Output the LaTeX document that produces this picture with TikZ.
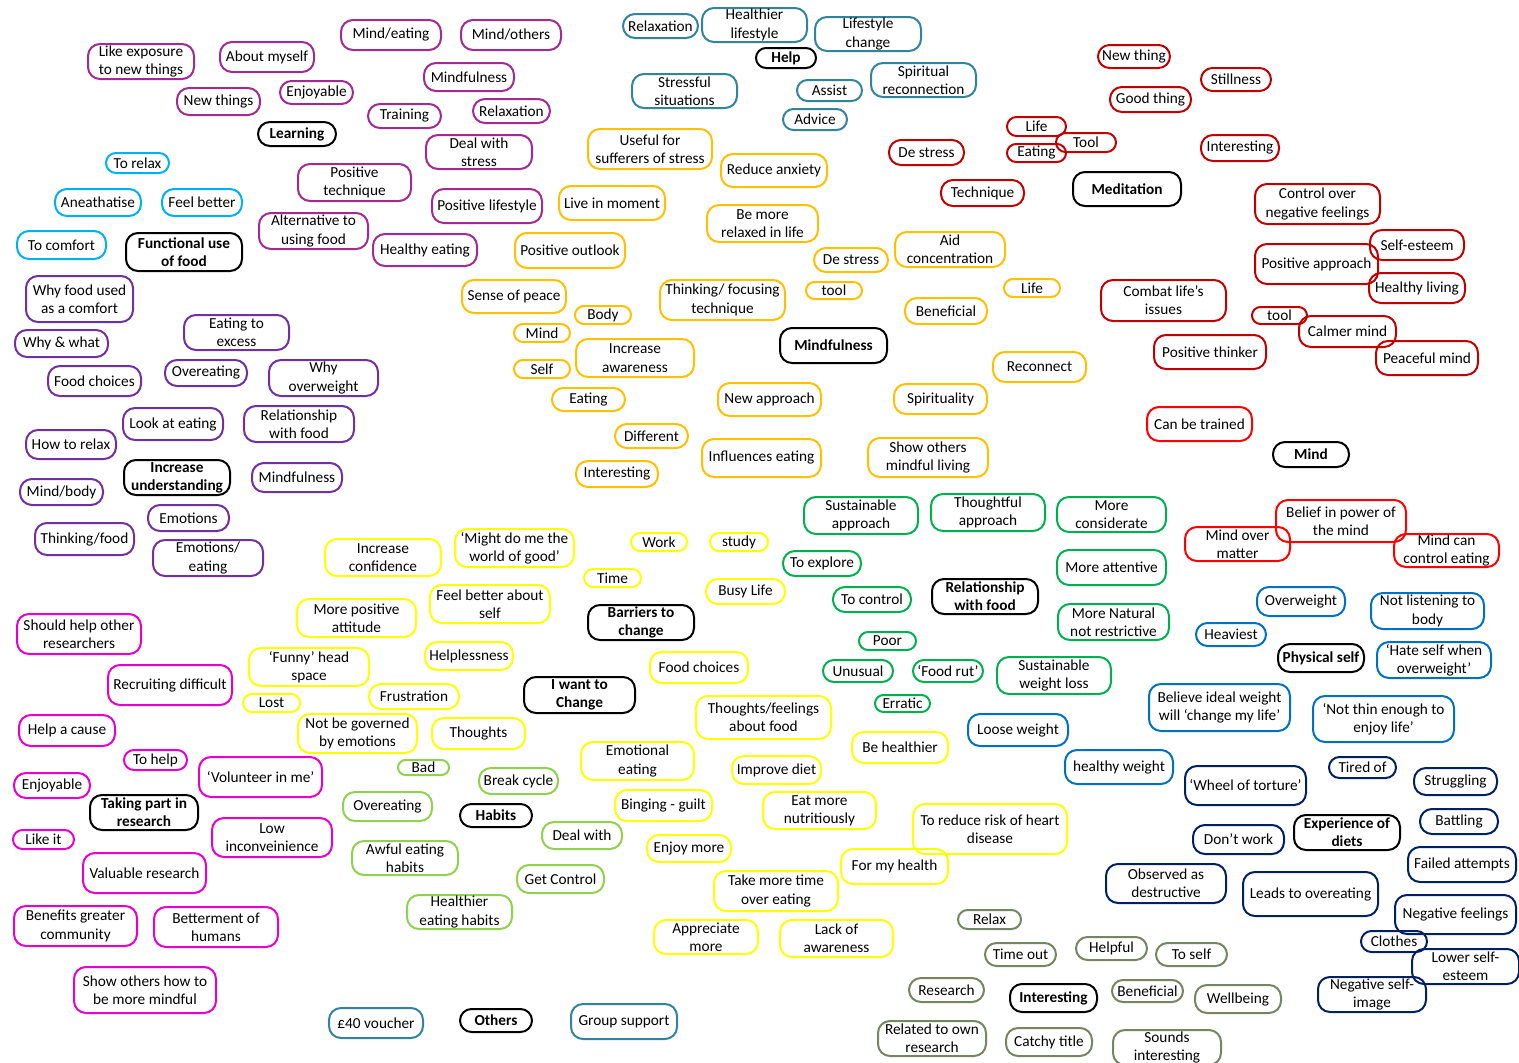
\documentclass[tikz,border=0pt]{standalone}
\usepackage{fontspec}
\setmainfont{Carlito}

\begin{document}
\begin{tikzpicture}[
    x=1pt, y=-1pt,
    font=\fontsize{15.3}{18.3}\selectfont,
    line join=round,
    line cap=round,
    bubble/.style={draw, line width=2pt, align=center, inner sep=0pt, outer sep=0pt},
    hub/.style={draw=black, font=\fontsize{15.3}{18.3}\selectfont\bfseries},
    learn/.style={draw=learncol},
    func/.style={draw=funccol},
    under/.style={draw=undercol},
    helpc/.style={draw=helpcol},
    mindf/.style={draw=mindfcol},
    medit/.style={draw=meditcol},
    mindc/.style={draw=mindcol},
    relat/.style={draw=relatcol},
    want/.style={draw=wantcol},
    habit/.style={draw=habitcol},
    resrch/.style={draw=resrchcol},
    other/.style={draw=helpcol},
    intr/.style={draw=intrcol},
    phys/.style={draw=physcol},
    diet/.style={draw=dietcol}
]

% ========= Colors =========
\definecolor{learncol}{RGB}{160,43,147}
\definecolor{undercol}{RGB}{112,48,160}
\definecolor{funccol}{RGB}{0,176,240}
\definecolor{helpcol}{RGB}{49,132,155}
\definecolor{mindfcol}{RGB}{255,192,0}
\definecolor{meditcol}{RGB}{192,0,0}
\definecolor{mindcol}{RGB}{255,0,0}
\definecolor{relatcol}{RGB}{0,176,80}
\definecolor{wantcol}{RGB}{255,255,0}
\definecolor{habitcol}{RGB}{146,208,80}
\definecolor{resrchcol}{RGB}{230,0,205}
\definecolor{intrcol}{RGB}{118,133,98}
\definecolor{physcol}{RGB}{0,112,192}
\definecolor{dietcol}{RGB}{0,32,96}

% ========= Helper: rounded bubble =========
% args: name, style, left, top, right, bottom, label
\newcommand{\bubble}[7]{
    \node[bubble, #2, minimum width={#5-#3-2}, minimum height={#6-#4-2},
          rounded corners={min(12,(#6-#4-2)/2)}]
          (#1) at ({(#3+#5)/2},{(#4+#6)/2}) {#7};
}

\fill[white] (0,0) rectangle (1519,1063);
\useasboundingbox (0,0) rectangle (1519,1063);

% ========= Learning =========
\bubble{learning}{hub}{257}{121}{337}{147}{Learning}
\bubble{likeexp}{learn}{87}{43}{195}{80}{Like exposure\\to new things}
\bubble{aboutme}{learn}{219}{41}{315}{73}{About myself}
\bubble{mindeat}{learn}{340}{19}{442}{51}{Mind/eating}
\bubble{mindoth}{learn}{460}{19}{562}{51}{Mind/others}
\bubble{newthgs}{learn}{176}{87}{261}{116}{New things}
\bubble{enjoyl}{learn}{279}{80}{354}{105}{Enjoyable}
\bubble{mindfl}{learn}{423}{62}{515}{92}{Mindfulness}
\bubble{trainl}{learn}{367}{103}{442}{129}{Training}
\bubble{relaxl}{learn}{472}{98}{551}{124}{Relaxation}
\bubble{dealstr}{learn}{425}{134}{533}{170}{Deal with\\stress}
\bubble{postech}{learn}{297}{163}{412}{202}{Positive\\technique}
\bubble{altfood}{learn}{258}{212}{369}{250}{Alternative to\\using food}
\bubble{poslife}{learn}{431}{188}{543}{224}{Positive lifestyle}
\bubble{hlthyeat}{learn}{372}{233}{478}{267}{Healthy eating}

% ========= Functional use of food =========
\bubble{funcuse}{hub}{125}{232}{243}{272}{Functional use\\of food}
\bubble{torelax}{func}{105}{152}{170}{174}{To relax}
\bubble{anaes}{func}{54}{188}{142}{217}{Aneathatise}
\bubble{feelbet}{func}{161}{188}{243}{217}{Feel better}
\bubble{tocomf}{func}{16}{230}{107}{260}{To comfort}

% ========= Increase understanding =========
\bubble{incund}{hub}{123}{459}{231}{496}{Increase\\understanding}
\bubble{whyfood}{under}{25}{275}{134}{323}{Why food used\\as a comfort}
\bubble{whywhat}{under}{14}{329}{109}{358}{Why \& what}
\bubble{eatexc}{under}{183}{314}{290}{351}{Eating to\\excess}
\bubble{foodchu}{under}{47}{365}{142}{397}{Food choices}
\bubble{overu}{under}{164}{359}{248}{387}{Overeating}
\bubble{whyover}{under}{268}{359}{379}{397}{Why\\overweight}
\bubble{lookeat}{under}{122}{407}{224}{441}{Look at eating}
\bubble{relfoodu}{under}{243}{405}{355}{443}{Relationship\\with food}
\bubble{howrelax}{under}{25}{429}{117}{460}{How to relax}
\bubble{mindfu}{under}{251}{462}{343}{493}{Mindfulness}
\bubble{mindbody}{under}{19}{478}{104}{506}{Mind/body}
\bubble{emot}{under}{147}{504}{230}{532}{Emotions}
\bubble{thinkfood}{under}{34}{522}{135}{556}{Thinking/food}
\bubble{emoteat}{under}{152}{539}{264}{577}{Emotions/\\eating}

% ========= Help =========
\bubble{help}{hub}{755}{47}{817}{69}{Help}
\bubble{relaxh}{helpc}{622}{13}{699}{39}{Relaxation}
\bubble{hlife}{helpc}{701}{7}{808}{43}{Healthier\\lifestyle}
\bubble{lifech}{helpc}{814}{16}{922}{52}{Lifestyle\\change}
\bubble{stressful}{helpc}{631}{73}{738}{109}{Stressful\\situations}
\bubble{assist}{helpc}{796}{79}{863}{102}{Assist}
\bubble{spirit}{helpc}{870}{62}{977}{98}{Spiritual\\reconnection}
\bubble{advice}{helpc}{782}{108}{848}{131}{Advice}

% ========= Mindfulness =========
\bubble{mindful}{hub}{779}{327}{888}{364}{Mindfulness}
\bubble{useful}{mindf}{587}{128}{713}{170}{Useful for\\sufferers of stress}
\bubble{redanx}{mindf}{720}{153}{828}{188}{Reduce anxiety}
\bubble{livemom}{mindf}{558}{185}{666}{221}{Live in moment}
\bubble{berelax}{mindf}{706}{204}{819}{243}{Be more\\relaxed in life}
\bubble{posout}{mindf}{514}{232}{626}{269}{Positive outlook}
\bubble{destrm}{mindf}{813}{247}{889}{273}{De stress}
\bubble{aidconc}{mindf}{894}{231}{1006}{268}{Aid\\concentration}
\bubble{peace}{mindf}{461}{279}{567}{314}{Sense of peace}
\bubble{thinkfoc}{mindf}{659}{279}{786}{321}{Thinking/ focusing\\technique}
\bubble{toolm}{mindf}{805}{281}{863}{300}{tool}
\bubble{lifem}{mindf}{1003}{278}{1061}{298}{Life}
\bubble{body}{mindf}{574}{305}{632}{325}{Body}
\bubble{benefm}{mindf}{904}{297}{988}{325}{Beneficial}
\bubble{mindm}{mindf}{513}{323}{571}{343}{Mind}
\bubble{incaware}{mindf}{575}{338}{695}{378}{Increase\\awareness}
\bubble{selfm}{mindf}{513}{359}{571}{379}{Self}
\bubble{reconn}{mindf}{992}{351}{1087}{383}{Reconnect}
\bubble{eatm}{mindf}{551}{387}{626}{412}{Eating}
\bubble{newappr}{mindf}{717}{382}{822}{417}{New approach}
\bubble{spiritual}{mindf}{893}{383}{988}{415}{Spirituality}
\bubble{diffm}{mindf}{614}{423}{689}{449}{Different}
\bubble{interm}{mindf}{575}{460}{659}{488}{Interesting}
\bubble{infleat}{mindf}{701}{438}{822}{478}{Influences eating}
\bubble{showmind}{mindf}{867}{437}{989}{478}{Show others\\mindful living}

% ========= Meditation =========
\bubble{medit}{hub}{1072}{171}{1182}{207}{Meditation}
\bubble{newthing}{medit}{1097}{44}{1171}{69}{New thing}
\bubble{still}{medit}{1200}{67}{1272}{92}{Stillness}
\bubble{goodthing}{medit}{1109}{86}{1192}{113}{Good thing}
\bubble{lifed}{medit}{1006}{116}{1067}{137}{Life}
\bubble{toold}{medit}{1055}{132}{1117}{153}{Tool}
\bubble{eatd}{medit}{1006}{143}{1067}{163}{Eating}
\bubble{destrd}{medit}{888}{139}{965}{166}{De stress}
\bubble{interd}{medit}{1200}{134}{1280}{162}{Interesting}
\bubble{techd}{medit}{940}{179}{1025}{207}{Technique}
\bubble{ctrlneg}{medit}{1254}{183}{1381}{225}{Control over\\negative feelings}
\bubble{selfest}{medit}{1369}{229}{1465}{261}{Self-esteem}
\bubble{posappr}{medit}{1254}{243}{1379}{285}{Positive approach}
\bubble{hliving}{medit}{1368}{272}{1466}{304}{Healthy living}
\bubble{combat}{medit}{1100}{279}{1227}{322}{Combat life’s\\issues}
\bubble{toolt}{medit}{1251}{306}{1308}{325}{tool}
\bubble{calmer}{medit}{1298}{315}{1397}{348}{Calmer mind}
\bubble{posthink}{medit}{1153}{334}{1267}{370}{Positive thinker}
\bubble{peaceful}{medit}{1375}{340}{1479}{376}{Peaceful mind}

% ========= Mind =========
\bubble{mind}{hub}{1272}{441}{1350}{468}{Mind}
\bubble{trained}{mindc}{1146}{406}{1253}{442}{Can be trained}
\bubble{overmat}{mindc}{1184}{526}{1291}{562}{Mind over\\matter}
\bubble{belief}{mindc}{1275}{499}{1407}{543}{Belief in power of\\the mind}
\bubble{canctrl}{mindc}{1393}{533}{1500}{568}{Mind can\\control eating}

% ========= Relationship with food =========
\bubble{relfood}{hub}{931}{578}{1039}{615}{Relationship\\with food}
\bubble{sustappr}{relat}{803}{496}{919}{535}{Sustainable\\approach}
\bubble{thoughtful}{relat}{930}{493}{1046}{532}{Thoughtful\\approach}
\bubble{consid}{relat}{1056}{496}{1167}{533}{More\\considerate}
\bubble{explore}{relat}{782}{550}{862}{577}{To explore}
\bubble{attentive}{relat}{1056}{549}{1167}{586}{More attentive}
\bubble{control}{relat}{832}{586}{912}{613}{To control}
\bubble{natural}{relat}{1057}{603}{1170}{641}{More Natural\\not restrictive}
\bubble{poor}{relat}{858}{631}{917}{651}{Poor}
\bubble{unusual}{relat}{822}{659}{894}{683}{Unusual}
\bubble{foodrut}{relat}{912}{659}{984}{683}{‘Food rut’}
\bubble{sustloss}{relat}{996}{656}{1112}{695}{Sustainable\\weight loss}
\bubble{erratic}{relat}{874}{694}{931}{713}{Erratic}

% ========= I want to change / barriers =========
\bubble{wantchg}{hub}{523}{676}{636}{714}{I want to\\Change}
\bubble{barriers}{hub}{587}{604}{695}{641}{Barriers to\\change}
\bubble{incconf}{want}{324}{538}{442}{577}{Increase\\confidence}
\bubble{worldgood}{want}{454}{528}{575}{568}{‘Might do me the\\world of good’}
\bubble{work}{want}{630}{532}{688}{552}{Work}
\bubble{study}{want}{709}{532}{769}{552}{study}
\bubble{time}{want}{583}{568}{642}{588}{Time}
\bubble{busy}{want}{705}{578}{786}{605}{Busy Life}
\bubble{moreposat}{want}{296}{598}{417}{638}{More positive\\attitude}
\bubble{feelself}{want}{429}{584}{551}{624}{Feel better about\\self}
\bubble{helpless}{want}{424}{641}{514}{671}{Helplessness}
\bubble{funny}{want}{248}{647}{370}{687}{‘Funny’ head\\space}
\bubble{foodchw}{want}{649}{651}{749}{684}{Food choices}
\bubble{frust}{want}{368}{683}{460}{710}{Frustration}
\bubble{lost}{want}{242}{693}{301}{713}{Lost}
\bubble{thfeel}{want}{695}{695}{832}{740}{Thoughts/feelings\\about food}
\bubble{governed}{want}{297}{713}{418}{754}{Not be governed\\by emotions}
\bubble{thoughts}{want}{431}{717}{526}{750}{Thoughts}
\bubble{emoteatw}{want}{580}{741}{695}{781}{Emotional\\eating}
\bubble{behealth}{want}{851}{731}{949}{764}{Be healthier}
\bubble{improve}{want}{731}{755}{822}{785}{Improve diet}
\bubble{binge}{want}{614}{789}{713}{822}{Binging - guilt}
\bubble{nutri}{want}{762}{791}{877}{830}{Eat more\\nutritiously}
\bubble{heart}{want}{912}{803}{1068}{855}{To reduce risk of heart\\disease}
\bubble{enjoymore}{want}{646}{834}{732}{863}{Enjoy more}
\bubble{myhealth}{want}{840}{848}{949}{885}{For my health}
\bubble{taketime}{want}{713}{870}{839}{912}{Take more time\\over eating}
\bubble{apprec}{want}{653}{919}{759}{955}{Appreciate\\more}
\bubble{lackaw}{want}{779}{919}{894}{958}{Lack of\\awareness}

% ========= Habits =========
\bubble{habits}{hub}{459}{803}{533}{828}{Habits}
\bubble{bad}{habit}{397}{759}{450}{776}{Bad}
\bubble{breakc}{habit}{478}{767}{559}{795}{Break cycle}
\bubble{overh}{habit}{342}{791}{433}{822}{Overeating}
\bubble{dealw}{habit}{541}{821}{623}{850}{Deal with}
\bubble{awful}{habit}{351}{840}{459}{876}{Awful eating\\habits}
\bubble{getctrl}{habit}{516}{864}{605}{894}{Get Control}
\bubble{healthier}{habit}{406}{894}{513}{930}{Healthier\\eating habits}

% ========= Taking part in research =========
\bubble{taking}{hub}{89}{794}{199}{831}{Taking part in\\research}
\bubble{shouldhelp}{resrch}{16}{613}{142}{655}{Should help other\\researchers}
\bubble{recruit}{resrch}{107}{664}{233}{706}{Recruiting difficult}
\bubble{cause}{resrch}{18}{714}{116}{747}{Help a cause}
\bubble{tohelp}{resrch}{123}{749}{188}{771}{To help}
\bubble{volunteer}{resrch}{198}{756}{323}{798}{‘Volunteer in me’}
\bubble{enjoyr}{resrch}{13}{772}{91}{799}{Enjoyable}
\bubble{likeit}{resrch}{12}{829}{75}{850}{Like it}
\bubble{lowinc}{resrch}{211}{817}{333}{858}{Low\\inconveinience}
\bubble{valuable}{resrch}{82}{852}{207}{894}{Valuable research}
\bubble{benefits}{resrch}{13}{905}{138}{947}{Benefits greater\\community}
\bubble{betterment}{resrch}{153}{906}{279}{948}{Betterment of\\humans}
\bubble{showhow}{resrch}{73}{966}{217}{1014}{Show others how to\\be more mindful}

% ========= Others =========
\bubble{others}{hub}{459}{1008}{533}{1033}{Others}
\bubble{voucher}{other}{328}{1007}{424}{1039}{£40 voucher}
\bubble{group}{other}{570}{1003}{678}{1040}{Group support}

% ========= Interesting =========
\bubble{interesting}{hub}{1009}{983}{1098}{1013}{Interesting}
\bubble{relaxi}{intr}{957}{909}{1022}{930}{Relax}
\bubble{timeout}{intr}{984}{942}{1057}{967}{Time out}
\bubble{helpful}{intr}{1075}{936}{1148}{961}{Helpful}
\bubble{toself}{intr}{1155}{942}{1228}{967}{To self}
\bubble{research}{intr}{908}{977}{985}{1003}{Research}
\bubble{benefi}{intr}{1111}{979}{1184}{1003}{Beneficial}
\bubble{wellb}{intr}{1194}{984}{1282}{1014}{Wellbeing}
\bubble{related}{intr}{877}{1020}{987}{1057}{Related to own\\research}
\bubble{catchy}{intr}{1005}{1027}{1093}{1057}{Catchy title}
\bubble{sounds}{intr}{1112}{1029}{1222}{1066}{Sounds\\interesting}

% ========= Physical self =========
\bubble{physself}{hub}{1277}{643}{1365}{673}{Physical self}
\bubble{overweight}{phys}{1256}{586}{1346}{617}{Overweight}
\bubble{notlisten}{phys}{1370}{592}{1485}{630}{Not listening to\\body}
\bubble{heaviest}{phys}{1195}{622}{1267}{647}{Heaviest}
\bubble{hateself}{phys}{1376}{641}{1492}{679}{‘Hate self when\\overweight’}
\bubble{believe}{phys}{1148}{683}{1291}{732}{Believe ideal weight\\will ‘change my life’}
\bubble{notthin}{phys}{1312}{695}{1455}{743}{‘Not thin enough to\\enjoy life’}
\bubble{loose}{phys}{967}{713}{1069}{747}{Loose weight}
\bubble{healthyw}{phys}{1064}{749}{1174}{785}{healthy weight}

% ========= Experience of diets =========
\bubble{expdiets}{hub}{1293}{814}{1401}{851}{Experience of\\diets}
\bubble{wheel}{diet}{1184}{765}{1307}{806}{‘Wheel of torture’}
\bubble{tired}{diet}{1328}{756}{1397}{779}{Tired of}
\bubble{struggling}{diet}{1413}{767}{1498}{796}{Struggling}
\bubble{battling}{diet}{1419}{808}{1499}{835}{Battling}
\bubble{dontwork}{diet}{1192}{824}{1285}{855}{Don’t work}
\bubble{failed}{diet}{1407}{846}{1517}{883}{Failed attempts}
\bubble{observed}{diet}{1105}{863}{1227}{904}{Observed as\\destructive}
\bubble{leads}{diet}{1242}{871}{1379}{917}{Leads to overeating}
\bubble{negfeel}{diet}{1394}{894}{1517}{935}{Negative feelings}
\bubble{clothes}{diet}{1360}{930}{1428}{953}{Clothes}
\bubble{lowerself}{diet}{1411}{948}{1520}{985}{Lower self-\\esteem}
\bubble{negimage}{diet}{1317}{976}{1427}{1013}{Negative self-\\image}

\end{tikzpicture}
\end{document}
